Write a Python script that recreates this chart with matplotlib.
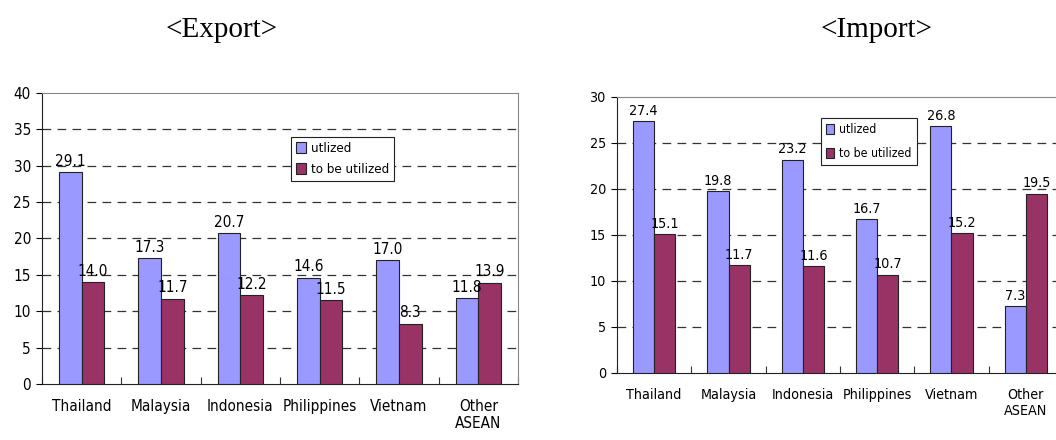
import numpy as np
import matplotlib.pyplot as plt

countries = ["Thailand", "Malaysia", "Indonesia", "Philippines", "Vietnam", "Other\nASEAN"]
export_utlized = [29.1, 17.3, 20.7, 14.6, 17.0, 11.8]
export_to_be = [14.0, 11.7, 12.2, 11.5, 8.3, 13.9]
import_utlized = [27.4, 19.8, 23.2, 16.7, 26.8, 7.3]
import_to_be = [15.1, 11.7, 11.6, 10.7, 15.2, 19.5]

blue = '#9999ff'
maroon = '#993366'
fnt = dict(family='DejaVu Sans', stretch='condensed')

fig = plt.figure(figsize=(10.56, 4.4), dpi=100)
ax1 = fig.add_axes([0.0398, 0.1273, 0.4508, 0.6614])
ax2 = fig.add_axes([0.5843, 0.1523, 0.4223, 0.6273])


def draw(ax, a, b, ymax, leg_xy, s, lsp):
    x = np.arange(len(countries))
    w = 0.285
    b1 = ax.bar(x - w / 2, a, w, color=blue, edgecolor='#222222', linewidth=0.8,
                label='utlized', zorder=3)
    b2 = ax.bar(x + w / 2, b, w, color=maroon, edgecolor='#222222', linewidth=0.8,
                label='to be utilized', zorder=3)
    for bars, vals in ((b1, a), (b2, b)):
        for r, v in zip(bars, vals):
            ax.text(r.get_x() + r.get_width() / 2, v + ymax * 0.012, '%.1f' % v,
                    ha='center', va='bottom', fontsize=11 * s, zorder=4, **fnt)
    ax.set_xlim(-0.5, len(countries) - 0.5)
    ax.set_ylim(0, ymax)
    ax.set_yticks(np.arange(0, ymax + 1, 5))
    for yy in np.arange(5, ymax, 5):
        ax.axhline(yy, color='#333333', lw=0.9, ls=(0, (7, 5)), zorder=1)
    ax.set_xticks(np.arange(len(countries) + 1) - 0.5)
    ax.set_xticklabels([])
    ax.set_xticks(x, minor=True)
    ax.set_xticklabels(countries, minor=True, fontsize=11 * s, linespacing=1.15, **fnt)
    ax.tick_params(axis='x', which='minor', length=0, pad=11)
    ax.tick_params(axis='x', which='major', length=5, direction='in', color='#333333')
    ax.tick_params(axis='y', length=4, pad=4)
    for lab in ax.get_yticklabels():
        lab.set_fontsize(11 * s)
        lab.set_family(fnt['family'])
        lab.set_stretch('condensed')
    ax.spines['top'].set_color('#888888')
    ax.spines['right'].set_color('#888888')
    ax.spines['left'].set_color('#222222')
    ax.spines['bottom'].set_color('#222222')
    leg = ax.legend(loc='upper left', bbox_to_anchor=leg_xy, borderaxespad=0,
                    fancybox=False, edgecolor='#222222', framealpha=1,
                    handlelength=0.7, handleheight=0.9, handletextpad=0.4,
                    borderpad=0.4, labelspacing=lsp, prop=dict(size=9.5 * s, **fnt))
    leg.get_frame().set_linewidth(0.8)
    leg.set_zorder(5)


draw(ax1, export_utlized, export_to_be, 40, (0.523, 0.849), 1.0, 0.6)
draw(ax2, import_utlized, import_to_be, 30, (0.457, 0.924), 0.93, 0.9)

fig.text(0.210, 0.932, '<Export>', ha='center', va='center', fontsize=21,
         family='Liberation Serif')
fig.text(0.830, 0.932, '<Import>', ha='center', va='center', fontsize=21,
         family='Liberation Serif')

plt.savefig('out.png', dpi=100)
